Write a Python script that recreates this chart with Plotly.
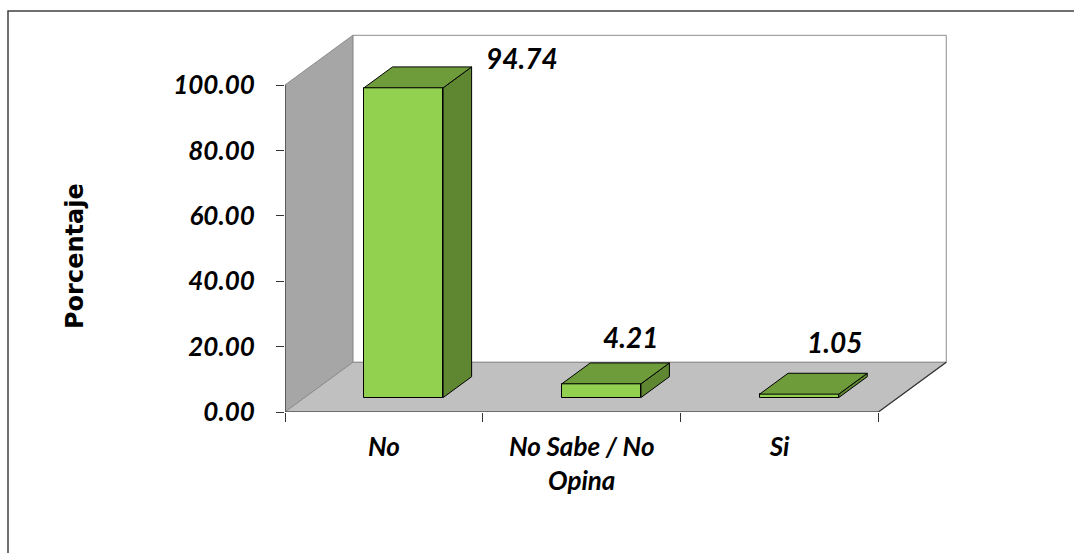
import plotly.graph_objects as go

# ---- data ----
categories = ["No", "No Sabe / No Opina", "Si"]
tick_text = ["No", "No Sabe / No<br>Opina", "Si"]
percent = [94.74, 4.21, 1.05]
y_ticks = [0, 20, 40, 60, 80, 100]

# ---- geometry of the pseudo-3D box (data units) ----
W, H = 1074, 553
ML, MR, MT, MB = 285, 124, 28, 141
PW, PH = W - ML - MR, H - MT - MB
PX_PER_CAT, PX_PER_PCT = 197.8, 3.27
X_RANGE = [-0.5, -0.5 + PW / PX_PER_CAT]
Y_RANGE = [0, PH / PX_PER_PCT]
DX, DY = 0.343, 15.2          # depth vector of the box
F0, F1 = 0.29, 0.71           # front / back depth of each bar
BAR_W = 0.40
AXIS_MAX = y_ticks[-1]
X_LO, X_HI = -0.5, len(categories) - 0.5

# label placement relative to each bar
LABEL_DX = [0.698, 0.249, 0.276]
LABEL_DY = [13.4, 18.7, 20.4]

FRONT = "#92D050"
TOP = "#6E9C3B"
SIDE = "#5F8630"
EDGE = "#8C8C8C"
DARK = "#333333"
LABEL_FONT = dict(family="Lato", weight="bold", style="italic", color="black")


def path(pts):
    return "M " + " L ".join(f"{x:.4f},{y:.4f}" for x, y in pts) + " Z"


def to_paper_x(px):
    return (px - ML) / PW


def to_paper_y(py):
    return (H - MB - py) / PH


shapes = []

# back wall, left wall, floor
back_wall = [(X_LO + DX, DY), (X_HI + DX, DY), (X_HI + DX, AXIS_MAX + DY), (X_LO + DX, AXIS_MAX + DY)]
left_wall = [(X_LO, 0), (X_LO + DX, DY), (X_LO + DX, AXIS_MAX + DY), (X_LO, AXIS_MAX)]
floor = [(X_LO, 0), (X_HI, 0), (X_HI + DX, DY), (X_LO + DX, DY)]
for pts, fill in [(back_wall, "white"), (left_wall, "#A6A6A6"), (floor, "#C0C0C0")]:
    shapes.append(dict(type="path", xref="x", yref="y", path=path(pts), fillcolor=fill,
                       line=dict(color=EDGE, width=1), layer="below"))

# darker front edges: value axis and floor front/right edges
for (x0, y0), (x1, y1) in [((X_LO, 0), (X_LO, AXIS_MAX)), ((X_LO, 0), (X_HI, 0)), ((X_HI, 0), (X_HI + DX, DY))]:
    shapes.append(dict(type="line", xref="x", yref="y", x0=x0, y0=y0, x1=x1, y1=y1,
                       line=dict(color=DARK, width=1.2), layer="below"))

# top and side faces of every bar
for i, v in enumerate(percent):
    xl, xr = i - BAR_W / 2, i + BAR_W / 2
    top = [(xl + F0 * DX, F0 * DY + v), (xr + F0 * DX, F0 * DY + v),
           (xr + F1 * DX, F1 * DY + v), (xl + F1 * DX, F1 * DY + v)]
    side = [(xr + F0 * DX, F0 * DY), (xr + F1 * DX, F1 * DY),
            (xr + F1 * DX, F1 * DY + v), (xr + F0 * DX, F0 * DY + v)]
    for pts, fill in [(side, SIDE), (top, TOP)]:
        shapes.append(dict(type="path", xref="x", yref="y", path=path(pts), fillcolor=fill,
                           line=dict(color="black", width=1), layer="above"))

# chart-area border
shapes.append(dict(type="rect", xref="paper", yref="paper",
                   x0=to_paper_x(8), y0=to_paper_y(11), x1=to_paper_x(W + 10), y1=to_paper_y(H + 10),
                   line=dict(color="#404040", width=1.5), fillcolor="rgba(0,0,0,0)", layer="below"))

fig = go.Figure()
fig.add_trace(go.Bar(
    x=list(range(len(categories))), y=percent, base=F0 * DY,
    width=BAR_W, offset=-BAR_W / 2 + F0 * DX,
    marker=dict(color=FRONT, line=dict(color="black", width=1)),
    hoverinfo="skip", showlegend=False,
))

annotations = []
for i, v in enumerate(percent):
    annotations.append(dict(x=i + LABEL_DX[i], y=v + LABEL_DY[i], xref="x", yref="y",
                            text=f"{v:.2f}", showarrow=False,
                            font=dict(size=28, **LABEL_FONT)))
annotations.append(dict(x=to_paper_x(75), y=to_paper_y(256), xref="paper", yref="paper",
                        xanchor="center", yanchor="middle",
                        text="Porcentaje", textangle=-90, showarrow=False,
                        font=dict(family="DejaVu Sans", size=24, weight="bold", color="black")))

fig.update_layout(
    width=W, height=H,
    margin=dict(l=ML, r=MR, t=MT, b=MB, autoexpand=False),
    paper_bgcolor="white", plot_bgcolor="white",
    shapes=shapes, annotations=annotations,
    bargap=0, showlegend=False,
    xaxis=dict(range=X_RANGE, tickmode="array", tickvals=list(range(len(categories))),
               ticktext=tick_text, ticks="", showgrid=False, zeroline=False, showline=False,
               tickfont=dict(size=26, **LABEL_FONT), ticklabelstandoff=17,
               minor=dict(tickmode="array", tickvals=[X_LO + k for k in range(len(categories) + 1)],
                          ticks="outside", ticklen=9, tickcolor=DARK, tickwidth=1.2, showgrid=False),
               fixedrange=True),
    yaxis=dict(range=Y_RANGE, tickmode="array", tickvals=y_ticks, tickformat=".2f",
               ticks="outside", ticklen=8, tickcolor=DARK, tickwidth=1.2,
               showgrid=False, zeroline=False, showline=False,
               tickfont=dict(size=26, **LABEL_FONT), ticklabelstandoff=16,
               fixedrange=True),
)

fig.write_html("out.html")
